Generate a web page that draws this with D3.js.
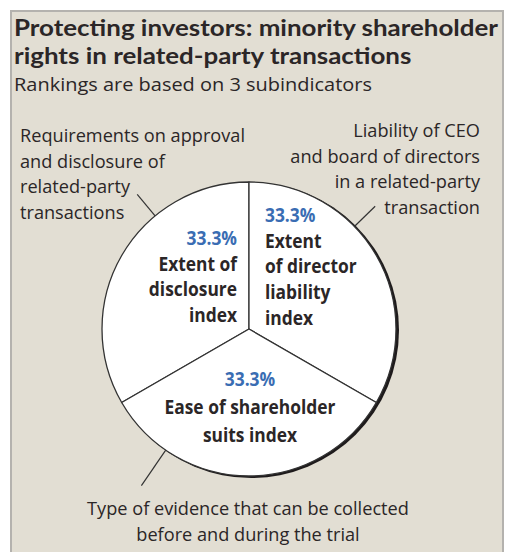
<!DOCTYPE html>
<html>
<head>
<meta charset="utf-8">
<script src="https://cdn.jsdelivr.net/npm/d3@7"></script>
<style>
  html, body { margin: 0; padding: 0; background: #fff; }
  svg { display: block; }
  text { font-family: "Open Sans", "Noto Sans", sans-serif; fill: #2b2627; }
  .title text { font-family: Lato, "Open Sans", sans-serif; }
</style>
</head>
<body>
<div id="chart"></div>
<script>
// chart data
var categories = ['Extent of disclosure index', 'Extent of director liability index', 'Ease of shareholder suits index'];
var shares = [33.3, 33.3, 33.3];
var shareLabels = ['33.3%', '33.3%', '33.3%'];
var sliceLines = [
  ['Extent of', 'disclosure', 'index'],
  ['Extent', 'of director', 'liability', 'index'],
  ['Ease of shareholder', 'suits index']
];
var notes = [
  ['Requirements on approval', 'and disclosure of', 'related-party', 'transactions'],
  ['Liability of CEO', 'and board of directors', 'in a related-party', 'transaction'],
  ['Type of evidence that can be collected', 'before and during the trial']
];
var titleLines = ['Protecting investors: minority shareholder', 'rights in related-party transactions'];
var subtitle = 'Rankings are based on 3 subindicators';

var width = 505, height = 552;
var cx = 249, cy = 329, radius = 147;

var svg = d3.select('#chart').append('svg')
  .attr('width', width)
  .attr('height', height);

// panel
svg.append('rect')
  .attr('x', 11).attr('y', 11)
  .attr('width', 492).attr('height', height)
  .attr('fill', '#e2ded3')
  .attr('stroke', '#b4b2ae')
  .attr('stroke-width', 2);

// squeeze a text element so it spans the given width
function fit(sel, target) {
  var w = sel.node().getComputedTextLength();
  sel.attr('textLength', target).attr('lengthAdjust', 'spacingAndGlyphs');
  return target / w;
}
function squeeze(sel, k) {
  sel.each(function () {
    var w = this.getComputedTextLength();
    d3.select(this).attr('textLength', w * k).attr('lengthAdjust', 'spacingAndGlyphs');
  });
}

// title
var title = svg.append('g').attr('class', 'title').attr('font-weight', 700).attr('font-size', 23.5);
var t1 = title.append('text').attr('x', 14).attr('y', 36).text(titleLines[0]);
var kTitle = fit(t1, 484);
var t2 = title.append('text').attr('x', 14).attr('y', 64).text(titleLines[1]);
squeeze(t2, kTitle);

var sub = svg.append('text')
  .attr('x', 14).attr('y', 91)
  .attr('font-size', 19)
  .text(subtitle);
fit(sub, 358);

// pie
var pie = d3.pie().sort(null)
  .startAngle(-2 * Math.PI / 3)
  .endAngle(4 * Math.PI / 3);
var arc = d3.arc().innerRadius(0).outerRadius(radius);

var g = svg.append('g').attr('transform', 'translate(' + cx + ',' + cy + ')');

// shadow edge on the right side
g.append('circle')
  .attr('cx', 2.2).attr('cy', 1.2)
  .attr('r', radius + 0.8)
  .attr('fill', '#1e1b1c');

g.selectAll('path.slice')
  .data(pie(shares))
  .join('path')
  .attr('class', 'slice')
  .attr('d', arc)
  .attr('fill', '#fff')
  .attr('stroke', '#333')
  .attr('stroke-width', 1.3)
  .attr('stroke-linejoin', 'round');

// leader lines: angle (deg, clockwise from top) and length
var leaders = [
  { angle: -39.7, len: 28 },
  { angle: 45.8, len: 29 },
  { angle: 214.5, len: 43 }
];
g.selectAll('line.leader')
  .data(leaders)
  .join('line')
  .attr('class', 'leader')
  .attr('x1', function (d) { return radius * Math.sin(d.angle * Math.PI / 180); })
  .attr('y1', function (d) { return -radius * Math.cos(d.angle * Math.PI / 180); })
  .attr('x2', function (d) { return (radius + d.len) * Math.sin(d.angle * Math.PI / 180); })
  .attr('y2', function (d) { return -(radius + d.len) * Math.cos(d.angle * Math.PI / 180); })
  .attr('stroke', '#333')
  .attr('stroke-width', 1.2);

// slice labels
var sliceLayout = [
  { x: -12, y: -84, anchor: 'end', gap: 25.5 },
  { x: 16, y: -107, anchor: 'start', gap: 25.7 },
  { x: 1, y: 57, anchor: 'middle', gap: 28 }
];
sliceLayout.forEach(function (p, i) {
  var lab = g.append('g')
    .attr('font-weight', 700)
    .attr('font-size', 19)
    .attr('text-anchor', p.anchor);
  lab.append('text')
    .attr('class', 'pct')
    .attr('x', p.x).attr('y', p.y)
    .style('fill', '#3a6db3')
    .text(shareLabels[i]);
  sliceLines[i].forEach(function (s, j) {
    lab.append('text')
      .attr('class', 'name')
      .attr('x', p.x)
      .attr('y', p.y + (j + 1) * p.gap)
      .text(s);
  });
});
// scale bold labels from "Ease of shareholder" width
var ease = g.selectAll('text.name').filter(function () { return d3.select(this).text() === 'Ease of shareholder'; });
var kBold = 171 / ease.node().getComputedTextLength();
squeeze(g.selectAll('text.name, text.pct'), kBold);

// outside notes
var noteLayout = [
  { x: 20, y: 142, anchor: 'start', gap: 25.7 },
  { x: 480, y: 137, anchor: 'end', gap: 25.7 },
  { x: 248, y: 515, anchor: 'middle', gap: 26 }
];
var noteTexts = [];
noteLayout.forEach(function (p, i) {
  var ng = svg.append('g').attr('font-size', 18).attr('text-anchor', p.anchor);
  notes[i].forEach(function (s, j) {
    noteTexts.push(ng.append('text')
      .attr('x', p.x)
      .attr('y', p.y + j * p.gap)
      .text(s).node());
  });
});
var kNote = 225 / noteTexts[0].getComputedTextLength();
squeeze(d3.selectAll(noteTexts), kNote);
</script>
</body>
</html>
